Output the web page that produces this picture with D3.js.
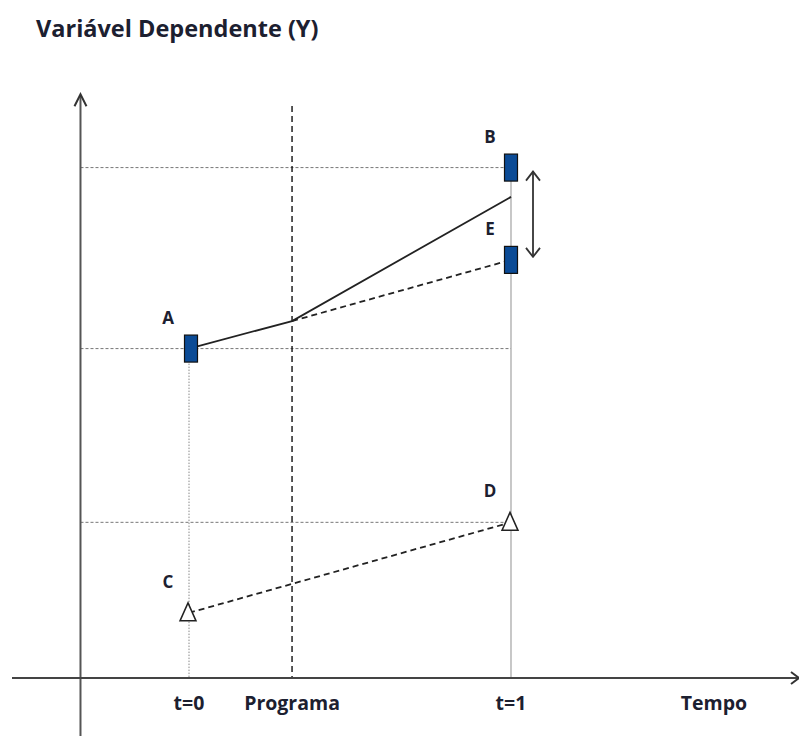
<!DOCTYPE html>
<html>
<head>
<meta charset="utf-8">
<script src="https://cdn.jsdelivr.net/npm/d3@7"></script>
<style>
  body { margin: 0; background: #fff; }
</style>
</head>
<body>
<div class="canvas"></div>
<script>
// time points on the x axis (t=0 -> 0, t=1 -> 1)
const timeLabels = ['t=0', 'Programa', 't=1', 'Tempo'];
const timeValues = [0, 0.32, 1, 1.63];

// treated group: A (t=0), B (t=1), E counterfactual
const treatedNames = ['A', 'B', 'E'];
const treatedTimes = [0, 1, 1];
const treatedValues = [91, 141, 115.5];

// control group: C (t=0), D (t=1)
const controlNames = ['C', 'D'];
const controlTimes = [0, 1];
const controlValues = [18, 43];

// observed path of treated group, and counterfactual path
const pathTimes = [0, 0.32, 1];
const pathValues = [91, 98.6, 132.9];
const counterTimes = [0.32, 1];
const counterValues = [98.6, 115.5];

const width = 799, height = 736;

const x = d3.scaleLinear().domain([0, 1]).range([189, 511]);
const y = d3.scaleLinear().domain([0, 100]).range([678, 316]);

const svg = d3.select('.canvas').append('svg')
    .attr('width', width)
    .attr('height', height);

const x0 = x(-0.337);   // y axis position
const yTop = y(161);

// title
svg.append('text')
    .text('Variável Dependente (Y)')
    .attr('x', 36)
    .attr('y', 37)
    .attr('font-family', 'Open Sans, sans-serif')
    .attr('font-weight', 'bold')
    .attr('font-size', 23.5)
    .attr('fill', '#1c2030');

// horizontal reference lines (A, B, D levels)
const refLevels = [treatedValues[0], treatedValues[1], controlValues[1]];
svg.selectAll('.ref')
    .data(refLevels)
    .enter().append('line')
    .attr('x1', x0)
    .attr('x2', x(1))
    .attr('y1', d => y(d))
    .attr('y2', d => y(d))
    .attr('stroke', '#777')
    .attr('stroke-width', 1)
    .attr('stroke-dasharray', '3,2');

// t=0 vertical (dotted)
svg.append('line')
    .attr('x1', x(0)).attr('x2', x(0))
    .attr('y1', y(treatedValues[0])).attr('y2', y(0))
    .attr('stroke', '#888')
    .attr('stroke-width', 1)
    .attr('stroke-dasharray', '1.5,1.5');

// t=1 vertical (light solid)
svg.append('line')
    .attr('x1', x(1)).attr('x2', x(1))
    .attr('y1', y(treatedValues[1])).attr('y2', y(0))
    .attr('stroke', '#aaa')
    .attr('stroke-width', 1.3);

// programa vertical (dashed)
svg.append('line')
    .attr('x1', x(0.32)).attr('x2', x(0.32))
    .attr('y1', y(158)).attr('y2', y(0))
    .attr('stroke', '#111')
    .attr('stroke-width', 1.4)
    .attr('stroke-dasharray', '6,4');

// axes
svg.append('line')
    .attr('x1', x0).attr('x2', x0)
    .attr('y1', yTop).attr('y2', height)
    .attr('stroke', '#555')
    .attr('stroke-width', 2);

svg.append('path')
    .attr('d', `M${x0 - 6},${yTop + 11} L${x0},${yTop - 1} L${x0 + 6},${yTop + 11}`)
    .attr('fill', 'none')
    .attr('stroke', '#333')
    .attr('stroke-width', 2);

svg.append('line')
    .attr('x1', 12).attr('x2', width)
    .attr('y1', y(0)).attr('y2', y(0))
    .attr('stroke', '#444')
    .attr('stroke-width', 2);

svg.append('path')
    .attr('d', `M${width - 8},${y(0) - 6} L${width},${y(0)} L${width - 8},${y(0) + 6}`)
    .attr('fill', 'none')
    .attr('stroke', '#333')
    .attr('stroke-width', 2);

// x tick labels
svg.selectAll('.xlab')
    .data(timeLabels)
    .enter().append('text')
    .text(d => d)
    .attr('x', (d, i) => x(timeValues[i]))
    .attr('y', 710)
    .attr('text-anchor', 'middle')
    .attr('font-family', 'Open Sans, sans-serif')
    .attr('font-weight', 'bold')
    .attr('font-size', 19.5)
    .attr('fill', '#1c2030');

const line = d3.line()
    .x(d => x(d[0]))
    .y(d => y(d[1]));

// observed path (solid)
svg.append('path')
    .attr('d', line(d3.zip(pathTimes, pathValues)))
    .attr('fill', 'none')
    .attr('stroke', '#222')
    .attr('stroke-width', 1.8);

// counterfactual path (dashed)
svg.append('path')
    .attr('d', line(d3.zip(counterTimes, counterValues)))
    .attr('fill', 'none')
    .attr('stroke', '#222')
    .attr('stroke-width', 1.8)
    .attr('stroke-dasharray', '6,4');

// control path (dashed)
svg.append('path')
    .attr('d', line(d3.zip(controlTimes, controlValues)))
    .attr('fill', 'none')
    .attr('stroke', '#222')
    .attr('stroke-width', 1.8)
    .attr('stroke-dasharray', '6,4');

// double arrow between B and E
const ax = x(1) + 22;
const ay1 = y(treatedValues[1]) + 4, ay2 = y(treatedValues[2]) - 3;
svg.append('line')
    .attr('x1', ax).attr('x2', ax)
    .attr('y1', ay1).attr('y2', ay2)
    .attr('stroke', '#333')
    .attr('stroke-width', 1.8);
svg.append('path')
    .attr('d', `M${ax - 7},${ay1 + 9} L${ax},${ay1} L${ax + 7},${ay1 + 9} M${ax - 7},${ay2 - 9} L${ax},${ay2} L${ax + 7},${ay2 - 9}`)
    .attr('fill', 'none')
    .attr('stroke', '#333')
    .attr('stroke-width', 1.8);

// treated markers (blue rectangles)
svg.selectAll('.treated')
    .data(treatedNames)
    .enter().append('rect')
    .attr('x', (d, i) => x(treatedTimes[i]) - 6.5 + (i === 0 ? 2 : 0))
    .attr('y', (d, i) => y(treatedValues[i]) - 13.5)
    .attr('width', 13)
    .attr('height', 27)
    .attr('fill', '#0b4b96')
    .attr('stroke', '#111')
    .attr('stroke-width', 1.2);

// control markers (triangles)
svg.selectAll('.control')
    .data(controlNames)
    .enter().append('path')
    .attr('d', (d, i) => {
        const cx = x(controlTimes[i]) - 1, cy = y(controlValues[i]);
        return `M${cx},${cy - 10} L${cx + 8},${cy + 8} L${cx - 8},${cy + 8} Z`;
    })
    .attr('fill', '#fff')
    .attr('stroke', '#222')
    .attr('stroke-width', 1.5);

// point labels
const labelNames = treatedNames.concat(controlNames);
const labelTimes = treatedTimes.concat(controlTimes);
const labelValues = treatedValues.concat(controlValues);
svg.selectAll('.plab')
    .data(labelNames)
    .enter().append('text')
    .text(d => d)
    .attr('x', (d, i) => x(labelTimes[i]) - 21)
    .attr('y', (d, i) => y(labelValues[i]) - 25)
    .attr('text-anchor', 'middle')
    .attr('font-family', 'Open Sans, sans-serif')
    .attr('font-weight', 'bold')
    .attr('font-size', 17)
    .attr('fill', '#1c2030');
</script>
</body>
</html>
